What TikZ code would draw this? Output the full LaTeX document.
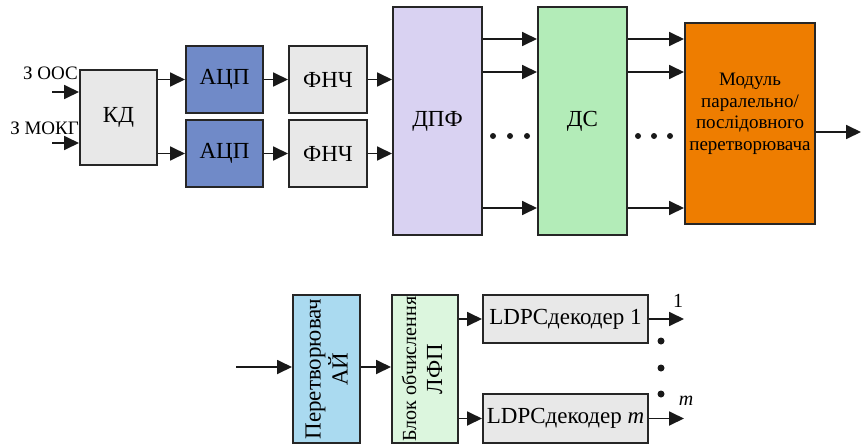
\documentclass[tikz,border=0pt]{standalone}
\usepackage{fontspec}
\setmainfont{Liberation Serif}
\usetikzlibrary{arrows.meta,positioning}

\definecolor{boxgrey}{HTML}{E8E8E8}
\definecolor{adcblue}{HTML}{708AC8}
\definecolor{dftlilac}{HTML}{D9D2F2}
\definecolor{dsgreen}{HTML}{B3ECB8}
\definecolor{modorange}{HTML}{EE7D00}
\definecolor{convblue}{HTML}{AADAF0}
\definecolor{llrgreen}{HTML}{DCF6DE}

\begin{document}
\begin{tikzpicture}[x=1pt,y=-1pt,
	box/.style={draw=black!85,line width=2pt,inner sep=0pt,align=center,
		font=\fontsize{23}{25}\selectfont},
	arr/.style={-{Triangle[length=15pt,width=14pt]},line width=1.8pt,black!90},
	dot/.style={circle,fill=black!90,inner sep=0pt,minimum size=6pt},
	small/.style={font=\fontsize{19}{20}\selectfont,inner sep=0pt}]
	\useasboundingbox (0,0) rectangle (861,444);
	% upper chain
	\node [box,fill=boxgrey,minimum width=77,minimum height=95] (kd) at (118.5,117.5) {КД};
	\foreach \n/\y in {1/79.5,2/153.5} {
		\node [box,fill=adcblue,minimum width=77,minimum height=67] (adc-\n) at (224.5,\y) {АЦП};
		\node [box,fill=boxgrey,minimum width=78,minimum height=67] (lpf-\n) at (328,\y) {ФНЧ};
	}
	\node [box,fill=dftlilac,minimum width=89,minimum height=228] (dpf) at (437.5,121) {ДПФ};
	\node [box,fill=dsgreen,minimum width=89,minimum height=228] (ds) at (582.5,121) {ДС};
	\node [box,fill=modorange,minimum width=130,minimum height=201] (mod) at (750,123.5) {};
	\node [align=center,font=\fontsize{19}{21.5}\selectfont] (mod-text) at (750,114)
		{Модуль\\паралельно/\\послідовного\\перетворювача};
	% inputs
	\coordinate (in-1) at (52,92);
	\coordinate (in-2) at (52,143);
	\node [small,anchor=east] (lab-oos) at (78,73) {З ООС};
	\node [small,anchor=east] (lab-mokg) at (79,128) {З МОКГ};
	\foreach \n in {1,2}
		\draw [arr] (in-\n) -- (kd.west |- in-\n);
	\foreach \n in {1,2} {
		\draw [arr] (kd.east |- adc-\n) -- (adc-\n);
		\draw [arr] (adc-\n) -- (lpf-\n);
		\draw [arr] (lpf-\n) -- (dpf.west |- lpf-\n);
	}
	\foreach \y in {39,72,208} {
		\draw [arr] (dpf.east |- 0,\y) -- (ds.west |- 0,\y);
		\draw [arr] (ds.east |- 0,\y) -- (mod.west |- 0,\y);
	}
	\foreach \x in {493,510,527,638,654,670}
		\node [dot] (dot-\x) at (\x,136) {};
	\coordinate (out) at (861,132);
	\draw [arr] (mod.east |- out) -- (out);
	% lower chain
	\node [box,fill=convblue,minimum width=67,minimum height=148] (conv) at (326.5,369) {};
	\node [rotate=90,align=center,font=\fontsize{23}{27}\selectfont] (conv-text) at (conv)
		{Перетворювач\\АЙ};
	\node [box,fill=llrgreen,minimum width=66,minimum height=148] (llr) at (425,369) {};
	\node [rotate=90,align=center,font=\fontsize{20}{26}\selectfont] (llr-text) at (422,369)
		{Блок обчислення\\{\fontsize{23}{25}\selectfont ЛФП}};
	\node [box,fill=boxgrey,minimum width=165,minimum height=48] (ldpc-1) at (565.5,319)
		{LDPCдекодер 1};
	\node [box,fill=boxgrey,minimum width=165,minimum height=49] (ldpc-m) at (565.5,418.5)
		{LDPCдекодер \textit{m}};
	\coordinate (in-b) at (236,367);
	\draw [arr] (in-b) -- (conv.west |- in-b);
	\draw [arr] (conv.east |- in-b) -- (llr.west |- in-b);
	\foreach \n in {1,m} {
		\draw [arr] (llr.east |- ldpc-\n) -- (ldpc-\n);
		\coordinate (out-\n) at (684,0 |- ldpc-\n);
		\draw [arr] (ldpc-\n) -- (out-\n);
	}
	\node [font=\fontsize{20}{22}\selectfont,inner sep=0pt] (lab-1) at (678,301) {1};
	\node [font=\fontsize{20}{22}\selectfont,inner sep=0pt] (lab-m) at (686,401) {\textit{m}};
	\foreach \y in {341,368,394}
		\node [dot,minimum size=7pt] (vdot-\y) at (661,\y) {};
\end{tikzpicture}
\end{document}
